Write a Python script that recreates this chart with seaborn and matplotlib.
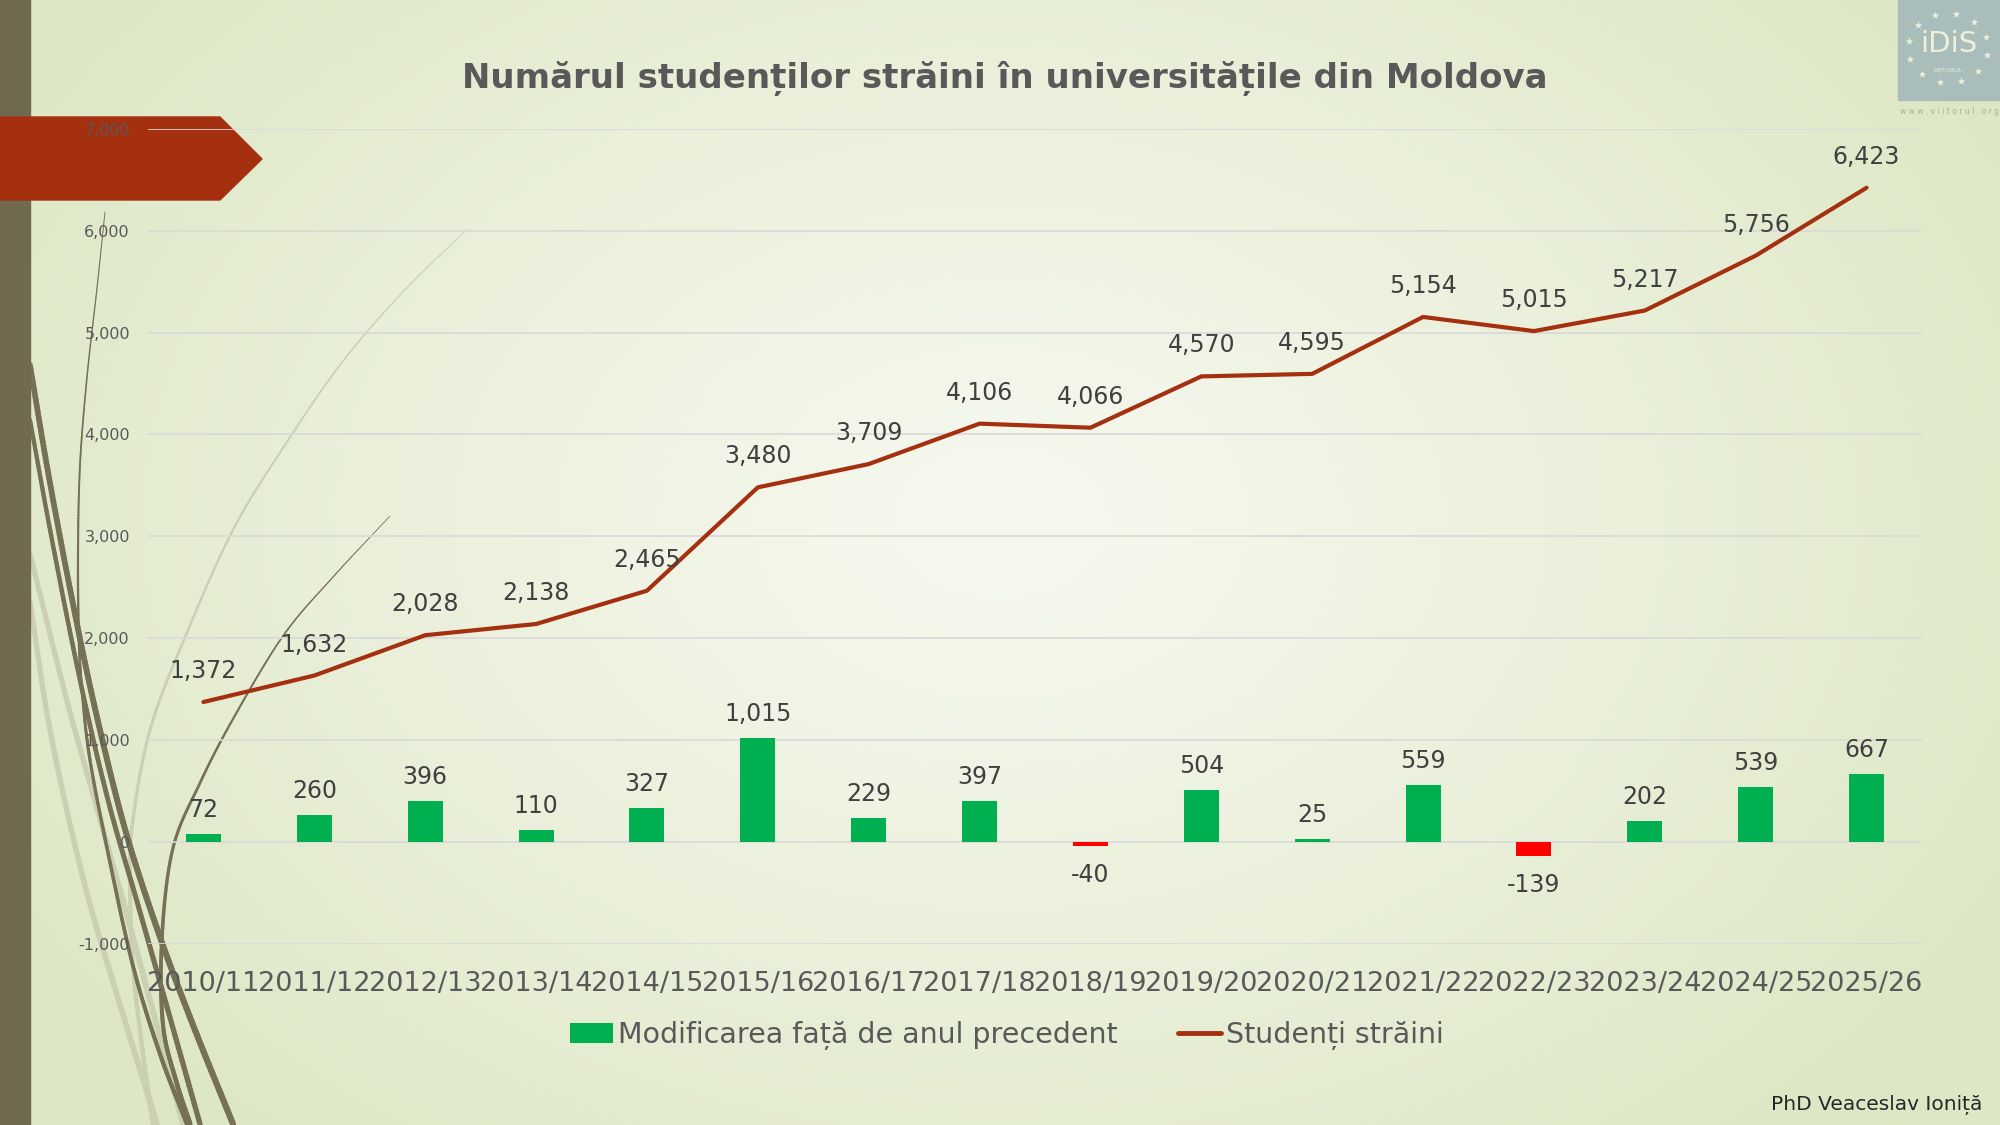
import numpy as np
import pandas as pd
import matplotlib
matplotlib.use("Agg")
import matplotlib.pyplot as plt
import seaborn as sns
from matplotlib.patches import Polygon, Rectangle, Patch
from matplotlib.lines import Line2D
from matplotlib.collections import LineCollection
from matplotlib.ticker import FuncFormatter

# ---------------- data ----------------
years = ["2010/11", "2011/12", "2012/13", "2013/14", "2014/15", "2015/16",
         "2016/17", "2017/18", "2018/19", "2019/20", "2020/21", "2021/22",
         "2022/23", "2023/24", "2024/25", "2025/26"]
students = [1372, 1632, 2028, 2138, 2465, 3480, 3709, 4106, 4066, 4570,
            4595, 5154, 5015, 5217, 5756, 6423]
changes = [72, 260, 396, 110, 327, 1015, 229, 397, -40, 504, 25, 559,
           -139, 202, 539, 667]

title_text = "Numărul studenților străini în universitățile din Moldova"
legend_bar = "Modificarea față de anul precedent"
legend_line = "Studenți străini"
author_text = "PhD Veaceslav Ioniță"

# ---------------- style ----------------
sns.set_style("white")
plt.rcParams['font.family'] = ['DejaVu Sans']

W, H = 2000, 1125
fig = plt.figure(figsize=(20, 11.25), dpi=100)

# background layer in pixel coordinates
bg = fig.add_axes([0, 0, 1, 1], zorder=0)
bg.axis('off')
yy, xx = np.mgrid[0:H:3, 0:W:3]
d = np.sqrt(((xx - 1000) / 1150.0) ** 2 + ((yy - 520) / 820.0) ** 2)
d = np.clip(d, 0, 1) ** 1.2
c0 = np.array([246, 248, 238]) / 255.0
c1 = np.array([221, 231, 197]) / 255.0
img = c0[None, None, :] * (1 - d[..., None]) + c1[None, None, :] * d[..., None]
bg.imshow(img, extent=[0, W, H, 0], aspect='auto', interpolation='bilinear', zorder=0)


def catmull(pts, n=30):
    pts = np.asarray(pts, float)
    p = np.vstack([pts[0] - (pts[1] - pts[0]), pts, pts[-1] + (pts[-1] - pts[-2])])
    out = []
    for i in range(1, len(p) - 2):
        p0, p1, p2, p3 = p[i - 1], p[i], p[i + 1], p[i + 2]
        for t in np.linspace(0, 1, n, endpoint=False):
            t2, t3 = t * t, t * t * t
            out.append(0.5 * ((2 * p1) + (-p0 + p2) * t + (2 * p0 - 5 * p1 + 4 * p2 - p3) * t2
                              + (-p0 + 3 * p1 - 3 * p2 + p3) * t3))
    out.append(pts[-1])
    return np.array(out)


def swoosh(pts, color, w0, w1, z=2):
    c = catmull(pts)
    segs = np.stack([c[:-1], c[1:]], axis=1)
    widths = np.linspace(w0, w1, len(segs))
    lc = LineCollection(segs, colors=color, linewidths=widths, capstyle='round', zorder=z)
    bg.add_collection(lc)


# decorative swooshes (left)
light = '#cbd0b4'
dark = '#767057'
swoosh([(467, 229), (400, 295), (340, 365), (285, 445), (233, 530), (183, 642),
        (150, 730), (133, 819), (130, 878), (133, 966), (143, 1054), (153, 1124)],
       light, 0.6, 3.4)
swoosh([(30, 554), (67, 701), (100, 819), (133, 937), (183, 1124)], light, 3.6, 4.2)
swoosh([(30, 601), (50, 730), (83, 878), (117, 995), (157, 1124)], light, 3.6, 4.2)
swoosh([(105, 212), (97, 288), (87, 377), (80, 465), (78, 554), (79, 642), (83, 701),
        (90, 760), (107, 848), (133, 966), (160, 1054), (187, 1124)], dark, 0.6, 3.2)
swoosh([(390, 516), (333, 577), (283, 636), (233, 719), (200, 783), (173, 848),
        (162, 937), (163, 1025), (177, 1084), (190, 1124)], dark, 0.5, 3.6)
swoosh([(30, 365), (50, 483), (77, 624), (100, 730), (127, 836), (160, 937),
        (193, 1025), (233, 1124)], dark, 4.0, 4.4)
swoosh([(30, 420), (52, 540), (80, 680), (108, 800), (138, 905), (165, 1000),
        (200, 1124)], dark, 3.0, 3.8)

# left stripe
bg.add_patch(Rectangle((0, 0), 30, H, color='#716a51', zorder=3))
# red banner
bg.add_patch(Polygon([(0, 117), (220, 117), (262, 159), (220, 200), (0, 200)],
                     closed=True, color='#a53010', zorder=4))

# logo (top right)
bg.add_patch(Rectangle((1898, 0), 102, 100, color='#a9bdbb', zorder=4))
ang = np.linspace(0, 2 * np.pi, 13)[:-1] + 0.2
bg.scatter(1948 + 40 * np.cos(ang), 48 + 35 * np.sin(ang), marker='*', s=34,
           color='#eef0de', linewidths=0, zorder=5)
bg.text(1949, 44, "iDiS", ha='center', va='center', fontsize=21, color='#eef0de',
        zorder=6, family=['DejaVu Sans'])
bg.text(1949, 70, "VIITORUL", ha='center', va='center', fontsize=4.5, color='#eef0de', zorder=6)
bg.text(1949, 112, "w w w . v i i t o r u l . o r g", ha='center', va='center',
        fontsize=5.5, color='#a7ae9c', zorder=6)

bg.set_xlim(0, W)
bg.set_ylim(H, 0)

# ---------------- chart ----------------
ax = fig.add_axes([148 / W, 1 - 943.5 / H, (1922 - 148) / W, (943.5 - 129) / H], zorder=2)
ax.patch.set_alpha(0)

df = pd.DataFrame({"year": years, "change": changes, "students": students})
bar_colors = ['#00b050' if c >= 0 else '#ff0000' for c in changes]
sns.barplot(data=df, x="year", y="change", hue="year", palette=bar_colors,
            width=0.316, saturation=1, legend=False, ax=ax, zorder=3,
            edgecolor='none', linewidth=0)
sns.lineplot(x=np.arange(len(years)), y=df["students"], color='#a5300f', lw=3.0,
             ax=ax, zorder=4, solid_capstyle='round')

ax.set_xlim(-0.5, len(years) - 0.5)
ax.set_ylim(-1000, 7000)
ax.set_yticks(range(-1000, 7001, 1000))
ax.yaxis.set_major_formatter(FuncFormatter(lambda v, p: f"{int(v):,}"))
ax.grid(axis='y', color='#d9d9d9', lw=1.2, zorder=0)
ax.grid(axis='x', visible=False)
ax.set_axisbelow(True)
for s in ax.spines.values():
    s.set_visible(False)
ax.set_xlabel("")
ax.set_ylabel("")
ax.tick_params(axis='y', length=0, pad=13, labelsize=11.5, labelcolor='#595959')
ax.tick_params(axis='x', length=0, pad=20, labelsize=19.5, labelcolor='#595959')

for i, v in enumerate(students):
    ax.annotate(f"{v:,}", (i, v), xytext=(0, 31), textcoords='offset pixels',
                ha='center', va='center', fontsize=17, color='#404040', zorder=6)
for i, v in enumerate(changes):
    off = 24 if v >= 0 else -29
    ax.annotate(f"{v:,}", (i, v), xytext=(0, off), textcoords='offset pixels',
                ha='center', va='center', fontsize=17, color='#404040', zorder=6)

fig.text(1005 / W, 1 - 78 / H, title_text, ha='center', va='center', fontsize=24.5,
         weight='bold', color='#595959')

handles = [Patch(facecolor='#00b050', edgecolor='none'),
           Line2D([], [], color='#a5300f', lw=3.5)]
fig.legend(handles=handles, labels=[legend_bar, legend_line], loc='center',
           bbox_to_anchor=(1007 / W, 1 - 1035 / H), ncol=2, frameon=False,
           fontsize=20.5, handlelength=1.5, handletextpad=0.2, columnspacing=2.1,
           labelcolor='#595959')

fig.text(1982 / W, 1 - 1105 / H, author_text, ha='right', va='center',
         fontsize=14.5, color='#262626')

fig.savefig("out.png", dpi=100)
